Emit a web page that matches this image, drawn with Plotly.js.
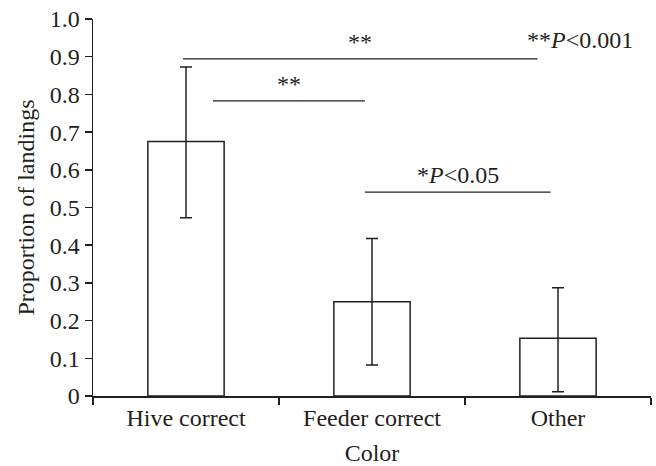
<!DOCTYPE html>
<html>
<head>
<meta charset="utf-8">
<script src="https://cdn.plot.ly/plotly-3.0.1.min.js"></script>
<style>html,body{margin:0;padding:0;background:#fff;}#chart{width:656px;height:466px;}</style>
</head>
<body>
<div id="chart"></div>
<script>
// Data
const categories = ["Hive correct", "Feeder correct", "Other"];
const proportions = [0.675, 0.25, 0.153];
const errPlus = [0.198, 0.168, 0.134];
const errMinus = [0.202, 0.168, 0.142];
const yTickVals = [0, 0.1, 0.2, 0.3, 0.4, 0.5, 0.6, 0.7, 0.8, 0.9, 1.0];
const yTickText = ["0", "0.1", "0.2", "0.3", "0.4", "0.5", "0.6", "0.7", "0.8", "0.9", "1.0"];
// Significance brackets: [x0, x1, y] in axis units, with label
const sigX0 = [-0.016, 0.145, 0.962];
const sigX1 = [1.89, 0.962, 1.96];
const sigY = [0.894, 0.783, 0.541];
const sigLabels = ["**", "**", "*<i>P</i><0.05"];
const noteText = "**<i>P</i><0.001";

const FONT = "Liberation Serif";
const ink = "#231f20";
const FS = 24;

const trace = {
  type: "bar",
  x: categories,
  y: proportions,
  width: 0.41,
  marker: {color: "rgba(255,255,255,1)", line: {color: ink, width: 1.5}},
  error_y: {type: "data", symmetric: false, array: errPlus, arrayminus: errMinus,
            color: ink, thickness: 1.5, width: 6},
  hoverinfo: "none"
};

const shapes = sigY.map((y, i) => ({
  type: "line", xref: "x", yref: "y",
  x0: sigX0[i], x1: sigX1[i], y0: y, y1: y,
  line: {color: ink, width: 1.3}
}));

const annotations = sigY.map((y, i) => ({
  xref: "x", yref: "y",
  x: (sigX0[i] + sigX1[i]) / 2, y: y,
  yshift: 2, yanchor: "bottom", showarrow: false,
  text: sigLabels[i], font: {family: FONT, size: FS, color: ink}
}));
annotations.push({
  xref: "x", yref: "y", x: 1.82, y: sigY[0], yshift: 4, xanchor: "left", yanchor: "bottom",
  showarrow: false, text: noteText, font: {family: FONT, size: FS, color: ink}
});

const layout = {
  width: 656, height: 466,
  margin: {l: 93, r: 5, t: 19, b: 70},
  paper_bgcolor: "#fff", plot_bgcolor: "#fff",
  showlegend: false,
  font: {family: FONT, size: FS, color: ink},
  xaxis: {
    type: "category", range: [-0.5, 2.5],
    showline: true, linecolor: ink, linewidth: 1.5,
    ticks: "outside", tickson: "boundaries", ticklen: 7, tickcolor: ink, tickwidth: 1.5,
    showgrid: false, zeroline: false,
    tickfont: {family: FONT, size: FS, color: ink},
    title: {text: "Color", font: {family: FONT, size: FS, color: ink}, standoff: 15}
  },
  yaxis: {
    range: [0, 1.0],
    tickvals: yTickVals, ticktext: yTickText,
    showline: true, linecolor: ink, linewidth: 1.5,
    ticks: "outside", ticklen: 7, tickcolor: ink, tickwidth: 1.5,
    showgrid: false, zeroline: false,
    tickfont: {family: FONT, size: FS, color: ink},
    title: {text: "Proportion of landings", font: {family: FONT, size: FS, color: ink}, standoff: 8}
  },
  shapes: shapes,
  annotations: annotations
};

Plotly.newPlot("chart", [trace], layout, {displayModeBar: false, staticPlot: true});
</script>
</body>
</html>
